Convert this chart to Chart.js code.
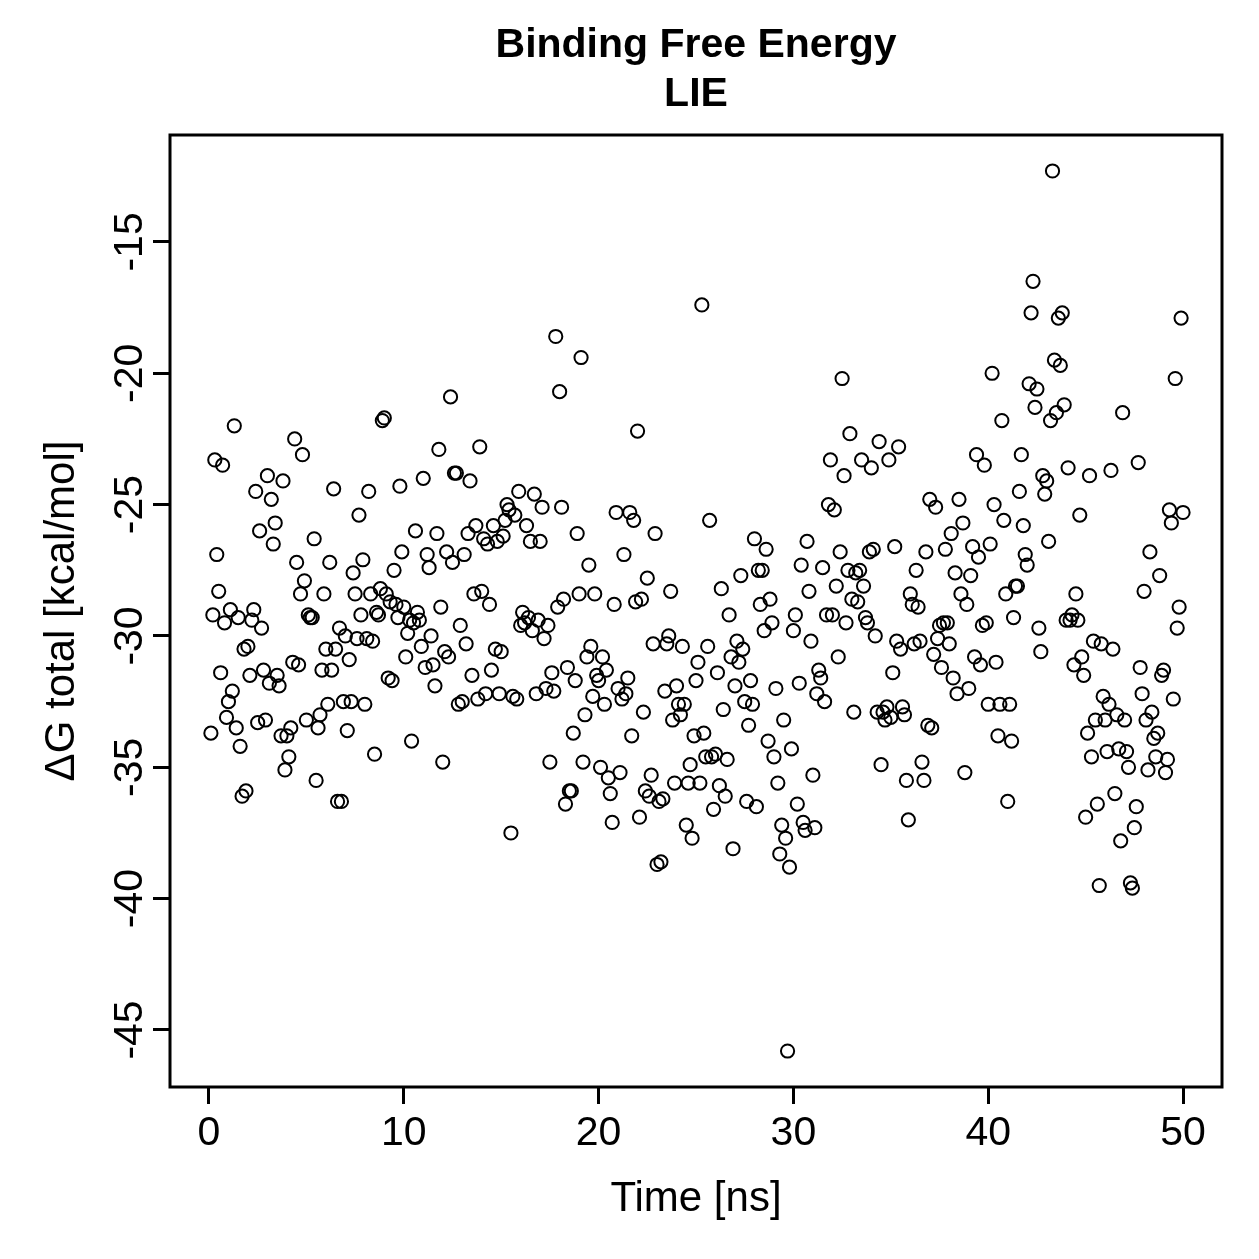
<!DOCTYPE html>
<html><head><meta charset="utf-8">
<script src="https://cdn.jsdelivr.net/npm/chart.js@4"></script>
<style>html,body{margin:0;padding:0;background:#fff}#wrap{width:1259px;height:1259px}</style>
</head><body><div id="wrap"><canvas id="c" width="1259" height="1259"></canvas></div>
<script>
const titleLines = ["Binding Free Energy", "LIE"];
const xLabel = "Time [ns]";
const yLabel = "\u0394G total [kcal/mol]";
const xTicks = [0, 10, 20, 30, 40, 50];
const yTicks = [-45, -40, -35, -30, -25, -20, -15];

const timeNs = [
0.1,0.2,0.3,0.4,0.5,0.6,0.7,0.8,0.9,1.0,1.1,1.2,1.3,1.4,1.5,1.6,1.7,1.8,1.9,2.0,
2.1,2.2,2.3,2.4,2.5,2.6,2.7,2.8,2.9,3.0,3.1,3.2,3.3,3.4,3.5,3.6,3.7,3.8,3.9,4.0,
4.1,4.2,4.3,4.4,4.5,4.6,4.7,4.8,4.9,5.0,5.1,5.2,5.3,5.4,5.5,5.6,5.7,5.8,5.9,6.0,
6.1,6.2,6.3,6.4,6.5,6.6,6.7,6.8,6.9,7.0,7.1,7.2,7.3,7.4,7.5,7.6,7.7,7.8,7.9,8.0,
8.1,8.2,8.3,8.4,8.5,8.6,8.7,8.8,8.9,9.0,9.1,9.2,9.3,9.4,9.5,9.6,9.7,9.8,9.9,10.0,
10.1,10.2,10.3,10.4,10.5,10.6,10.7,10.8,10.9,11.0,11.1,11.2,11.3,11.4,11.5,11.6,11.7,11.8,11.9,12.0,
12.1,12.2,12.3,12.4,12.5,12.6,12.7,12.8,12.9,13.0,13.1,13.2,13.3,13.4,13.5,13.6,13.7,13.8,13.9,14.0,
14.1,14.2,14.3,14.4,14.5,14.6,14.7,14.8,14.9,15.0,15.1,15.2,15.3,15.4,15.5,15.6,15.7,15.8,15.9,16.0,
16.1,16.2,16.3,16.4,16.5,16.6,16.7,16.8,16.9,17.0,17.1,17.2,17.3,17.4,17.5,17.6,17.7,17.8,17.9,18.0,
18.1,18.2,18.3,18.4,18.5,18.6,18.7,18.8,18.9,19.0,19.1,19.2,19.3,19.4,19.5,19.6,19.7,19.8,19.9,20.0,
20.1,20.2,20.3,20.4,20.5,20.6,20.7,20.8,20.9,21.0,21.1,21.2,21.3,21.4,21.5,21.6,21.7,21.8,21.9,22.0,
22.1,22.2,22.3,22.4,22.5,22.6,22.7,22.8,22.9,23.0,23.1,23.2,23.3,23.4,23.5,23.6,23.7,23.8,23.9,24.0,
24.1,24.2,24.3,24.4,24.5,24.6,24.7,24.8,24.9,25.0,25.1,25.2,25.3,25.4,25.5,25.6,25.7,25.8,25.9,26.0,
26.1,26.2,26.3,26.4,26.5,26.6,26.7,26.8,26.9,27.0,27.1,27.2,27.3,27.4,27.5,27.6,27.7,27.8,27.9,28.0,
28.1,28.2,28.3,28.4,28.5,28.6,28.7,28.8,28.9,29.0,29.1,29.2,29.3,29.4,29.5,29.6,29.7,29.8,29.9,30.0,
30.1,30.2,30.3,30.4,30.5,30.6,30.7,30.8,30.9,31.0,31.1,31.2,31.3,31.4,31.5,31.6,31.7,31.8,31.9,32.0,
32.1,32.2,32.3,32.4,32.5,32.6,32.7,32.8,32.9,33.0,33.1,33.2,33.3,33.4,33.5,33.6,33.7,33.8,33.9,34.0,
34.1,34.2,34.3,34.4,34.5,34.6,34.7,34.8,34.9,35.0,35.1,35.2,35.3,35.4,35.5,35.6,35.7,35.8,35.9,36.0,
36.1,36.2,36.3,36.4,36.5,36.6,36.7,36.8,36.9,37.0,37.1,37.2,37.3,37.4,37.5,37.6,37.7,37.8,37.9,38.0,
38.1,38.2,38.3,38.4,38.5,38.6,38.7,38.8,38.9,39.0,39.1,39.2,39.3,39.4,39.5,39.6,39.7,39.8,39.9,40.0,
40.1,40.2,40.3,40.4,40.5,40.6,40.7,40.8,40.9,41.0,41.1,41.2,41.3,41.4,41.5,41.6,41.7,41.8,41.9,42.0,
42.1,42.2,42.3,42.4,42.5,42.6,42.7,42.8,42.9,43.0,43.1,43.2,43.3,43.4,43.5,43.6,43.7,43.8,43.9,44.0,
44.1,44.2,44.3,44.4,44.5,44.6,44.7,44.8,44.9,45.0,45.1,45.2,45.3,45.4,45.5,45.6,45.7,45.8,45.9,46.0,
46.1,46.2,46.3,46.4,46.5,46.6,46.7,46.8,46.9,47.0,47.1,47.2,47.3,47.4,47.5,47.6,47.7,47.8,47.9,48.0,
48.1,48.2,48.3,48.4,48.5,48.6,48.7,48.8,48.9,49.0,49.1,49.2,49.3,49.4,49.5,49.6,49.7,49.8,49.9,50.0
];

const dGTotal = [
-33.7,-29.2,-23.3,-26.9,-28.3,-31.4,-23.5,-29.5,-33.1,-32.5,-29.0,-32.1,-22.0,-33.5,-29.3,-34.2,-36.1,-30.5,-35.9,-30.4,
-31.5,-29.4,-29.0,-24.5,-33.3,-26.0,-29.7,-31.3,-33.2,-23.9,-31.8,-24.8,-26.5,-25.7,-31.5,-31.9,-33.8,-24.1,-35.1,-33.8,
-34.6,-33.5,-31.0,-22.5,-27.2,-31.1,-28.4,-23.1,-27.9,-33.2,
-29.2,-29.3,-29.3,-26.3,-35.5,-33.5,-33.0,-31.3,-28.4,-30.5,-32.6,-27.2,-31.3,-24.4,-30.5,-36.3,-29.7,-36.3,-32.5,-30.0,
-33.6,-30.9,-32.5,-27.6,-28.4,-30.1,-25.4,-29.2,-27.1,-32.6,-30.1,-24.5,-28.4,-30.2,-34.5,-29.1,-29.2,-28.2,-21.8,-21.7,
-28.4,-31.6,-28.7,-31.7,-27.5,-28.8,-29.3,-24.3,-26.8,-28.9,
-30.8,-29.9,-29.4,-34.0,-29.5,-26.0,-29.1,-29.4,-30.4,-24.0,-31.2,-26.9,-27.4,-30.0,-31.1,-31.9,-26.1,-22.9,-28.9,-34.8,
-30.6,-26.8,-30.8,-20.9,-27.2,-23.8,-23.8,-32.6,-29.6,-32.5,-26.9,-30.3,-26.1,-24.1,-31.5,-28.4,-25.8,-32.4,-22.8,-28.3,
-26.3,-32.2,-26.5,-28.8,-31.3,-25.8,-30.5,-26.4,-32.2,-30.6,
-26.2,-25.6,-25.0,-25.2,-37.5,-32.3,-25.4,-32.4,-24.5,-29.6,-29.1,-29.5,-25.8,-29.3,-26.4,-29.8,-24.6,-32.2,-29.4,-26.4,
-25.1,-30.1,-32.0,-29.6,-34.8,-31.4,-32.1,-18.6,-28.9,-20.7,-25.1,-28.6,-36.4,-31.2,-35.9,-35.9,-33.7,-31.7,-26.1,-28.4,
-19.4,-34.8,-33.0,-30.8,-27.3,-30.4,-32.3,-28.4,-31.5,-31.7,
-35.0,-30.8,-32.6,-31.3,-35.4,-36.0,-37.1,-28.8,-25.3,-32.0,-35.2,-32.4,-26.9,-32.2,-31.6,-25.3,-33.8,-25.6,-28.7,-22.2,
-36.9,-28.6,-32.9,-35.9,-27.8,-36.1,-35.3,-30.3,-26.1,-38.7,-36.3,-38.6,-36.2,-32.1,-30.3,-30.0,-28.3,-33.2,-35.6,-31.9,
-32.6,-33.0,-30.4,-32.6,-37.2,-35.6,-34.9,-37.7,-33.8,-31.7,
-31.0,-35.6,-17.4,-33.7,-34.6,-30.4,-25.6,-34.6,-36.6,-34.5,-31.4,-35.7,-28.2,-32.8,-36.1,-34.7,-29.2,-30.8,-38.1,-31.9,
-30.2,-31.0,-27.7,-30.5,-32.5,-36.3,-33.4,-31.7,-32.6,-26.3,-36.5,-27.5,-28.8,-27.5,-29.8,-26.7,-34.0,-28.6,-29.5,-34.6,
-32.0,-35.6,-38.3,-37.2,-33.2,-37.7,-45.8,-38.8,-34.3,-29.8,
-29.2,-36.4,-31.8,-27.3,-37.1,-37.4,-26.4,-28.3,-30.2,-35.3,-37.3,-32.2,-31.3,-31.6,-27.4,-32.5,-29.2,-25.0,-23.3,-29.2,
-25.2,-28.1,-30.8,-26.8,-20.2,-23.9,-29.5,-27.5,-22.3,-28.6,-32.9,-27.6,-28.7,-27.5,-23.3,-28.1,-29.3,-29.5,-26.8,-23.6,
-26.7,-30.0,-32.9,-22.6,-34.9,-32.9,-33.2,-32.7,-23.3,-33.1,
-31.4,-26.6,-30.2,-22.8,-30.5,-32.7,-33.0,-35.5,-37.0,-28.4,-28.8,-30.3,-27.5,-28.9,-30.2,-34.8,-35.5,-26.8,-33.4,-24.8,
-33.5,-30.7,-25.1,-30.1,-29.6,-31.2,-29.5,-26.7,-29.5,-30.3,-26.1,-31.6,-27.6,-32.2,-24.8,-28.4,-25.7,-35.2,-28.8,-32.0,
-27.7,-26.6,-30.8,-23.1,-27.0,-31.1,-29.6,-23.5,-29.5,-32.6,
-26.5,-20.0,-25.0,-31.0,-33.8,-32.6,-21.8,-25.6,-28.4,-36.3,-32.6,-34.0,-29.3,-28.1,-28.1,-24.5,-23.1,-25.8,-26.9,-27.3,
-20.4,-17.7,-16.5,-21.3,-20.6,-29.7,-30.6,-23.9,-24.6,-24.1,-26.4,-21.8,-12.3,-19.5,-21.5,-17.9,-19.7,-17.7,-21.2,-29.4,
-23.6,-29.4,-29.2,-31.1,-28.4,-29.4,-25.4,-30.8,-31.5,-36.9,
-33.7,-23.9,-34.6,-30.2,-33.2,-36.4,-39.5,-30.3,-32.3,-33.2,-34.4,-32.6,-23.7,-30.5,-36.0,-33.0,-34.3,-37.8,-21.5,-33.2,
-34.4,-35.0,-39.4,-39.6,-37.3,-36.5,-23.4,-31.2,-32.2,-28.3,-33.2,-35.1,-26.8,-32.9,-33.9,-34.6,-33.7,-27.7,-31.5,-31.3,
-35.2,-34.7,-25.2,-25.7,-32.4,-20.2,-29.7,-28.9,-17.9,-25.3
];

const FONT = "'Liberation Sans', Arimo, Arial, Helvetica, sans-serif";

const boxPlugin = {
  id: 'rbox',
  afterDraw(chart) {
    const {ctx, chartArea: a} = chart;
    ctx.save();
    ctx.strokeStyle = '#000';
    ctx.lineWidth = 3;
    ctx.strokeRect(a.left, a.top, a.right - a.left, a.bottom - a.top);
    // rotated y tick labels (R style, parallel to axis)
    const ys = chart.scales.y;
    ctx.fillStyle = '#000';
    ctx.font = '41px ' + FONT;
    ctx.textAlign = 'center';
    ctx.textBaseline = 'middle';
    yTicks.forEach(v => {
      const py = ys.getPixelForValue(v);
      ctx.save();
      ctx.translate(131, py);
      ctx.rotate(-Math.PI / 2);
      ctx.fillText(String(v), 0, 0);
      ctx.restore();
    });
    ctx.restore();
  }
};

new Chart(document.getElementById('c'), {
  type: 'scatter',
  data: {
    datasets: [{
      data: timeNs.map((t, i) => ({x: t, y: dGTotal[i]})),
      pointStyle: 'circle',
      pointRadius: 6.6,
      pointHoverRadius: 6.6,
      borderColor: '#000',
      backgroundColor: 'rgba(0,0,0,0)',
      borderWidth: 2,
      showLine: false
    }]
  },
  options: {
    responsive: false,
    animation: false,
    devicePixelRatio: 1,
    layout: {padding: {left: 0, right: 37, top: 0, bottom: 0}},
    plugins: {
      legend: {display: false},
      tooltip: {enabled: false},
      title: {
        display: true,
        fullSize: false,
        align: 'center',
        text: titleLines,
        color: '#000',
        font: {family: FONT, size: 41, weight: 'bold', lineHeight: 1.2},
        padding: {top: 21, bottom: 15.6}
      }
    },
    scales: {
      x: {
        type: 'linear',
        min: -2, max: 52,
        afterBuildTicks: s => { s.ticks = xTicks.map(v => ({value: v})); },
        afterFit: s => { s.height = 172; },
        grid: {display: true, drawOnChartArea: false, drawTicks: true, tickLength: 17, color: '#000', lineWidth: 3},
        border: {display: false},
        ticks: {color: '#000', font: {family: FONT, size: 41}, padding: 5, maxRotation: 0, autoSkip: false},
        title: {display: true, text: xLabel, color: '#000', font: {family: FONT, size: 42}, padding: {top: 0, bottom: 34}}
      },
      y: {
        type: 'linear',
        min: -47.17, max: -10.93,
        afterBuildTicks: s => { s.ticks = yTicks.map(v => ({value: v})); },
        afterFit: s => { s.width = 170; },
        grid: {display: true, drawOnChartArea: false, drawTicks: true, tickLength: 17, color: '#000', lineWidth: 3},
        border: {display: false},
        ticks: {color: 'rgba(0,0,0,0)', font: {family: FONT, size: 41}, padding: 6, autoSkip: false},
        title: {display: true, text: yLabel, color: '#000', font: {family: FONT, size: 42}, padding: {top: 37, bottom: 0}}
      }
    }
  },
  plugins: [boxPlugin]
});
</script></body></html>
